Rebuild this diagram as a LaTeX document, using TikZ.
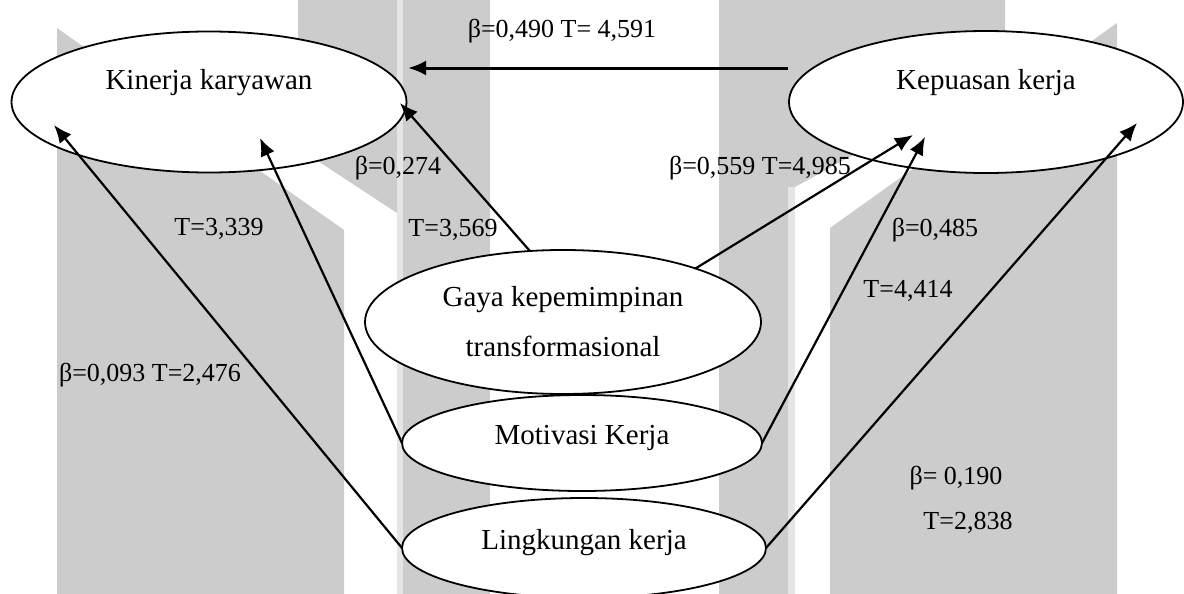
\documentclass[tikz,border=0pt]{standalone}
\usepackage{fontspec}
\setmainfont{Liberation Serif}
\usetikzlibrary{shapes.geometric,arrows.meta}

\begin{document}
\begin{tikzpicture}[x=0.5pt,y=-0.5pt,
	var/.style={draw,ellipse,fill=white,line width=0.9pt,inner sep=0pt,outer sep=0pt},
	vartext/.style={font=\fontsize{14.5}{25}\selectfont,align=center},
	coef/.style={font=\fontsize{13}{16}\selectfont,anchor=base,inner sep=0pt},
	link/.style={line width=1.1pt,-{Latex[length=9pt,width=7.5pt]}},
	wm/.style={fill=gray!40,draw=none},
	wmlight/.style={fill=gray!20,draw=none}]
	
	\useasboundingbox[fill=white](0,0) rectangle (1184,594);
	
	\fill[wm](57,28)--(344,230)--(344,594)--(57,594)--cycle;
	\fill[wm](298,0)--(397,0)--(397,213)--(298,148)--cycle;
	\fill[wmlight](397,0) rectangle (403,594);
	\fill[wm](403,0) rectangle (490,594);
	\fill[wm](719,0) rectangle (788,594);
	\fill[wm](788,0)--(1005,0)--(1005,71)--(795,187)--(788,187)--cycle;
	\fill[wmlight](788,187) rectangle (795,594);
	\fill[wm](830,228)--(1117,23)--(1117,594)--(830,594)--cycle;
	
	\node[var,minimum width=197.5pt,minimum height=70.5pt,label={[vartext,yshift=9.5pt]center:Kinerja karyawan}] (kinerja) at (209,102) {};
	\node[var,minimum width=197pt,minimum height=71pt,label={[vartext,yshift=9.5pt]center:Kepuasan kerja}] (kepuasan) at (986,102) {};
	\node[var,minimum width=198pt,minimum height=72pt,label={[vartext]center:Gaya kepemimpinan\\transformasional}] (gaya) at (563,322) {};
	\node[var,minimum width=180pt,minimum height=48pt,label={[vartext,yshift=2.5pt]center:Motivasi Kerja}] (motivasi) at (582,443) {};
	\node[var,minimum width=182pt,minimum height=50pt,label={[vartext,yshift=2.5pt]center:Lingkungan kerja}] (lingkungan) at (584,548) {};
	
	\coordinate (kin-a) at (54,125);
	\coordinate (kin-b) at (260,138);
	\coordinate (kin-c) at (400,103);
	\coordinate (kin-d) at (408,68);
	\coordinate (kep-o) at (788,68);
	\coordinate (kep-a) at (913,135);
	\coordinate (kep-b) at (925,137);
	\coordinate (kep-c) at (1137,123);
	
	\draw[link,line width=1.5pt](kep-o)--(kin-d);
	\draw[link](gaya.115)--(kin-c);
	\draw[link](motivasi.west)--(kin-b);
	\draw[link](lingkungan.west)--(kin-a);
	\draw[link](gaya.22)--(kep-a);
	\draw[link](motivasi.east)--(kep-b);
	\draw[link](lingkungan.east)--(kep-c);
	
	\node[coef] (c-kep-kin) at (562,37) {β=0,490 T= 4,591};
	\node[coef] (b-gaya-kin) at (398,174) {β=0,274};
	\node[coef] (t-gaya-kin) at (453,236) {T=3,569};
	\node[coef] (t-mot-kin) at (219,235) {T=3,339};
	\node[coef] (c-ling-kin) at (150,381) {β=0,093 T=2,476};
	\node[coef] (c-gaya-kep) at (760,174) {β=0,559 T=4,985};
	\node[coef] (b-mot-kep) at (935,236) {β=0,485};
	\node[coef] (t-mot-kep) at (908,297) {T=4,414};
	\node[coef] (b-ling-kep) at (956,484) {β= 0,190};
	\node[coef] (t-ling-kep) at (968,529) {T=2,838};
	
\end{tikzpicture}
\end{document}
